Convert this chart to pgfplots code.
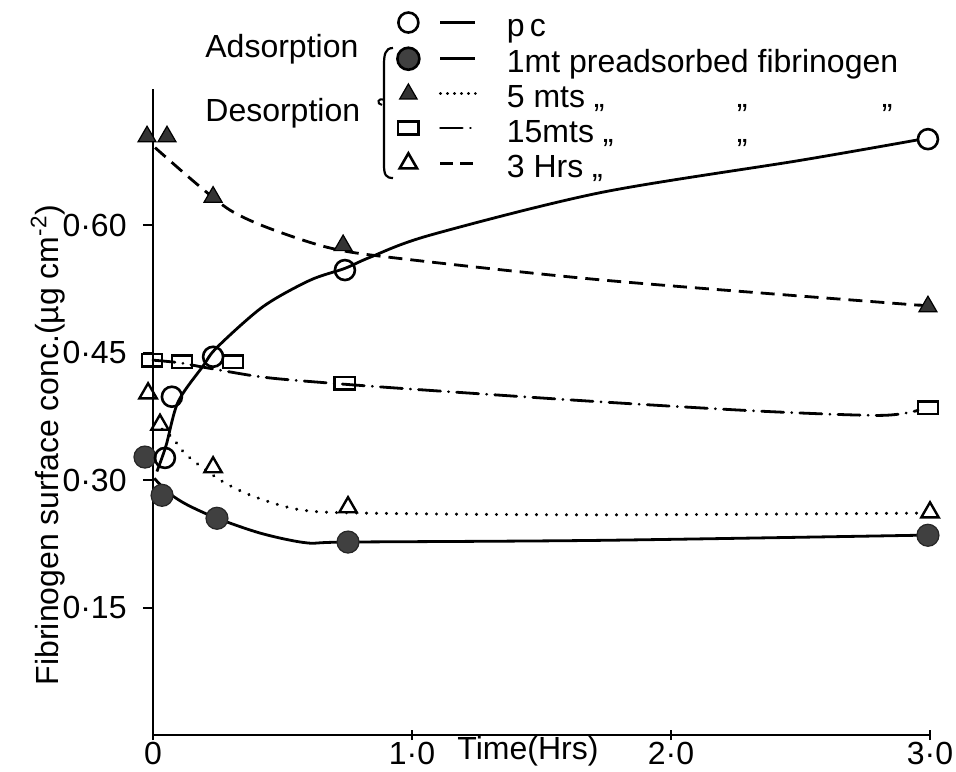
\documentclass[border=0pt]{standalone}
\usepackage{fontspec}
\setmainfont{Liberation Sans}
\usepackage{pgfplots}
\usepackage{pgfplotstable}
\pgfplotsset{compat=1.18}

% ---- measured points (time in h, surface conc. in ug/cm^2) ----
\pgfplotstableread{
x y
0.046 0.326
0.073 0.398
0.232 0.445
0.741 0.547
2.992 0.701
}\pcpts
\pgfplotstableread{
x y
0.015 0.310
0.050 0.340
0.097 0.392
0.193 0.434
0.247 0.456
0.425 0.504
0.606 0.535
0.741 0.549
0.838 0.562
1.069 0.588
1.726 0.638
2.498 0.676
2.950 0.700
}\pcline

\pgfplotstableread{
x y
-0.031 0.327
0.035 0.282
0.247 0.255
0.753 0.227
2.992 0.235
}\pre
\pgfplotstableread{
x y
0.005 0.302
0.060 0.285
0.131 0.271
0.247 0.255
0.420 0.237
0.595 0.226
0.753 0.227
1.726 0.229
2.954 0.235
}\preline

\pgfplotstableread{
x y
-0.023 0.704
0.054 0.704
0.232 0.633
0.734 0.576
2.992 0.504
}\fivemin
\pgfplotstableread{
x y
0.008 0.691
0.170 0.648
0.300 0.617
0.450 0.596
0.683 0.573
0.942 0.561
1.745 0.535
2.857 0.508
2.954 0.506
}\fiveminline

\pgfplotstableread{
x y
-0.004 0.441
0.112 0.439
0.309 0.439
0.741 0.414
2.992 0.385
}\fifteen
\pgfplotstableread{
x y
0.000 0.441
0.100 0.438
0.208 0.432
0.425 0.421
0.683 0.414
1.042 0.406
1.726 0.392
2.344 0.381
2.807 0.376
2.954 0.382
}\fifteenline

\pgfplotstableread{
x y
-0.019 0.402
0.027 0.365
0.232 0.315
0.753 0.268
3.000 0.262
}\threeh
\pgfplotstableread{
x y
0.035 0.360
0.077 0.349
0.131 0.329
0.259 0.300
0.386 0.281
0.568 0.265
0.826 0.261
1.726 0.259
2.954 0.261
}\threehline

\begin{document}
\fontsize{16}{19}\selectfont
\begin{tikzpicture}[x=0.5pt,y=0.5pt]
\useasboundingbox (0,0) rectangle (956,771);
\begin{axis}[
  at={(76.5pt,18pt)}, anchor=south west,
  scale only axis, width=388.5pt, height=323pt,
  xmin=0, xmax=3, ymin=0, ymax=0.76,
  axis x line*=bottom, axis y line*=left,
  axis line style={line width=1.1pt,-},
  clip=false,
  xtick={0,1,2,3},
  xticklabels={0,\mbox{1·0},\mbox{2·0},\mbox{3·0}},
  ytick={0.15,0.30,0.45,0.60},
  yticklabels={\mbox{0·15},\mbox{0·30},\mbox{0·45},\mbox{0·60}},
  major tick length=5pt,
  tick style={line width=1pt,black},
  ytick align=outside, xtick align=center,
  xticklabel style={anchor=base, yshift=-12.25pt},
  yticklabel style={anchor=east, inner sep=0pt, xshift=-8pt},
  xlabel={Time(Hrs)},
  xlabel style={at={(rel axis cs:0.4826,0)}, anchor=base, yshift=-12.25pt},
  ylabel={Fibrinogen surface conc.(µg cm\textsuperscript{-2})},
  ylabel style={at={(rel axis cs:-0.135,0.449)}, anchor=center},
  legend image code/.code={%
    \draw[#1] plot coordinates {(0pt,3pt)};
    \draw[#1,mark=none] (16pt,3pt) -- (33.5pt,3pt);},
  legend cell align=left,
  legend style={draw=none, fill=none, inner sep=0pt,
    at={(rel axis cs:0.314,1.119)}, anchor=north west,
    row sep=2.1pt,
    nodes={inner sep=0pt, text height=11.5pt, text depth=3.5pt},
    /tikz/every odd column/.append style={column sep=15pt}},
  every axis plot/.append style={line width=1.4pt, black},
]
% curves
\addplot[forget plot, smooth, tension=0.5] table {\pcline};
\addplot[forget plot, smooth, tension=0.5] table {\preline};
\addplot[forget plot, smooth, tension=0.5, dash pattern=on 7pt off 4pt] table {\fiveminline};
\addplot[forget plot, smooth, tension=0.5, line cap=round, dash pattern=on 11pt off 4pt on 0.1pt off 4pt] table {\fifteenline};
\addplot[forget plot, smooth, tension=0.5, line cap=round, line width=1.6pt, dash pattern=on 0.1pt off 4.9pt] table {\threehline};
% measured points
\addplot[forget plot, only marks, mark=*, mark size=5.5pt, mark options={solid, line width=0.6pt, fill=black!75, draw=black!85}] table {\pre};
\addplot[forget plot, only marks, mark=o, mark size=5pt, mark options={solid, line width=1.3pt, fill=white}] table {\pcpts};
\addplot[forget plot, only marks, mark=triangle*, mark size=5.2pt, mark options={solid, line width=0.6pt, fill=black!80}] table {\fivemin};
\addplot[forget plot, only marks, mark=square, mark size=3.2pt, mark options={solid, line width=1.2pt, xscale=1.6, fill=white}] table {\fifteen};
\addplot[forget plot, only marks, mark=triangle, mark size=5pt, mark options={solid, line width=1.2pt, fill=white}] table {\threeh};
% key
\addlegendimage{mark=o, mark size=5pt, line width=1.3pt, mark options={solid, fill=white}}
\addlegendentry{p\,c}
\addlegendimage{mark=*, mark size=5.5pt, line width=1.3pt, mark options={solid, fill=black!75}}
\addlegendentry{1mt preadsorbed fibrinogen}
\addlegendimage{mark=triangle*, mark size=5pt, line width=1.5pt, line cap=round, dash pattern=on 0.1pt off 3.4pt, mark options={solid, fill=black!80, line width=0.6pt}}
\addlegendentry{\makebox[115pt][l]{5 mts ,,}\makebox[72.5pt][l]{,,},,}
\addlegendimage{mark=square, mark size=3.2pt, line width=1.3pt, line cap=round, dash pattern=on 11pt off 4pt on 0.1pt off 4pt, mark options={solid, xscale=1.6}}
\addlegendentry{\makebox[115pt][l]{15mts ,,},,}
\addlegendimage{mark=triangle, mark size=5pt, line width=1.3pt, dash pattern=on 6.5pt off 3.5pt, mark options={solid}}
\addlegendentry{3 Hrs ,,}
\end{axis}
% group labels and brace of the key
\node[anchor=base west, inner sep=0pt] at (205,713) {Adsorption};
\node[anchor=base west, inner sep=0pt] at (205,649) {Desorption};
\draw[line width=1.1pt] (393,723) .. controls (385,723) and (384,716) .. (384,706)
  -- (384,606) .. controls (384,596) and (386,593) .. (393,593);
\draw[line width=1pt] (384,671) .. controls (378,674) and (376,667) .. (382,666);
\end{tikzpicture}
\end{document}
